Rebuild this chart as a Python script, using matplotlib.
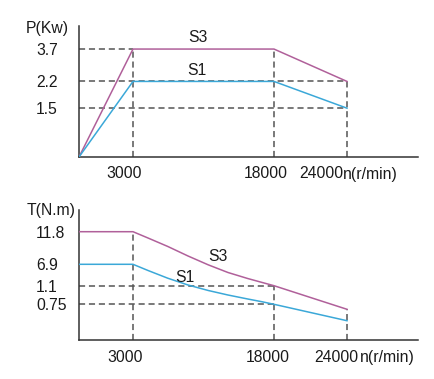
import numpy as np
import matplotlib
matplotlib.use("Agg")
import matplotlib.pyplot as plt

plt.rcParams['font.family'] = ['Liberation Sans', 'DejaVu Sans']

# ---------------- data ----------------
speed_ticks = [3000, 18000, 24000]
speed_labels = ["3000", "18000", "24000"]

# Power curves (kW) vs speed (r/min)
p_speed = [0, 3000, 18000, 24000]
p_s3 = [0, 3.7, 3.7, 2.2]
p_s1 = [0, 2.2, 2.2, 1.5]
p_ticks = [1.5, 2.2, 3.7]
p_labels = ["1.5", "2.2", "3.7"]

# Torque curves (N.m) vs speed (r/min)
t_speed = [0, 3000, 4600, 6700, 8850, 11000, 13100, 15200, 16700, 18000, 24000]
t_s3 = [11.8, 11.8, 10.85, 9.58, 8.15, 6.76, 4.68, 3.05, 2.0, 1.1, 0.645]
t_s1 = [6.9, 6.9, 5.22, 3.13, 1.29, 1.01, 0.925, 0.85, 0.799, 0.75, 0.405]
t_ticks = [0.75, 1.1, 6.9, 11.8]
t_labels = ["0.75", "1.1", "6.9", "11.8"]

C_S3 = "#B0609A"
C_S1 = "#3BA8D8"
C_DASH = "#555555"
C_AX = "#333333"
C_TXT = "#1a1a1a"


def piecewise_scale(vals, pos):
    vals = np.asarray(vals, float)
    pos = np.asarray(pos, float)

    def mk(a, b):
        def f(v):
            v = np.asarray(v, float)
            out = np.interp(v, a, b)
            lo_s = (b[1] - b[0]) / (a[1] - a[0])
            hi_s = (b[-1] - b[-2]) / (a[-1] - a[-2])
            out = np.where(v < a[0], b[0] + (v - a[0]) * lo_s, out)
            out = np.where(v > a[-1], b[-1] + (v - a[-1]) * hi_s, out)
            return out
        return f
    return mk(vals, pos), mk(pos, vals)


# schematic (non-uniform) axis spacing of the original drawing
x_fwd, x_inv = piecewise_scale([0, 3000, 18000, 24000, 30000], [0, 54, 195, 268, 339])
yp_fwd, yp_inv = piecewise_scale([0, 1.5, 2.2, 3.7, 4.8], [0, 48.7, 75.4, 107.7, 130.7])
yt_fwd, yt_inv = piecewise_scale([0, 0.75, 1.1, 6.9, 11.8, 15], [0, 35.7, 54.3, 75.7, 108.3, 130])

W, H = 435, 379
fig = plt.figure(figsize=(W / 100, H / 100), dpi=100)
fig.patch.set_facecolor("white")

ax1 = fig.add_axes([79 / W, 1 - 157 / H, 339 / W, 131 / H])
ax2 = fig.add_axes([79 / W, 1 - 340 / H, 339 / W, 130 / H])

FS = 11.3
dash_kw = dict(color=C_DASH, lw=1.1, ls=(0, (4, 2.5)), zorder=1)
LW = 1.1

for ax, yf, yi, ymax in [(ax1, yp_fwd, yp_inv, 4.8), (ax2, yt_fwd, yt_inv, 15)]:
    ax.set_xscale('function', functions=(x_fwd, x_inv))
    ax.set_yscale('function', functions=(yf, yi))
    ax.set_xlim(0, 30000)
    ax.set_ylim(0, ymax)
    for s in ("top", "right"):
        ax.spines[s].set_visible(False)
    for s in ("left", "bottom"):
        ax.spines[s].set_color(C_AX)
        ax.spines[s].set_linewidth(1.1)
    ax.set_xticks([])
    ax.minorticks_off()
    ax.patch.set_alpha(0)

# ---------- upper: power ----------
ax1.plot([0, 3000], [p_s3[1]] * 2, **dash_kw)
ax1.plot([0, 24000], [p_s1[1]] * 2, **dash_kw)
ax1.plot([0, 24000], [p_s1[3]] * 2, **dash_kw)
ax1.plot([3000] * 2, [0, p_s3[1]], **dash_kw)
ax1.plot([18000] * 2, [0, p_s3[2]], **dash_kw)
ax1.plot([24000] * 2, [0, p_s3[3]], **dash_kw)
ax1.plot(p_speed, p_s3, color=C_S3, lw=LW, zorder=3)
ax1.plot(p_speed, p_s1, color=C_S1, lw=LW, zorder=3)
ax1.set_yticks(p_ticks, p_labels, fontsize=FS)

# ---------- lower: torque ----------
ax2.plot([0, 18000], [t_s3[9]] * 2, **dash_kw)
ax2.plot([0, 18000], [t_s1[9]] * 2, **dash_kw)
ax2.plot([3000] * 2, [0, t_s3[1]], **dash_kw)
ax2.plot([18000] * 2, [0, t_s3[9]], **dash_kw)
ax2.plot([24000] * 2, [0, t_s3[10]], **dash_kw)
ax2.plot(t_speed, t_s3, color=C_S3, lw=LW, zorder=3, solid_joinstyle='round')
ax2.plot(t_speed, t_s1, color=C_S1, lw=LW, zorder=3, solid_joinstyle='round')
ax2.set_yticks(t_ticks, t_labels, fontsize=FS)

for ax in (ax1, ax2):
    ax.minorticks_off()
    ax.tick_params(axis='y', length=0, pad=31, colors=C_TXT)
    for lbl in ax.get_yticklabels():
        lbl.set_horizontalalignment('left')

# x tick labels (offsets as in the original drawing)
up_off = [-6.3, -6.1, -18.2]
lo_off = [-6.0, -4.5, -7.4]
for v, lab, o in zip(speed_ticks, speed_labels, up_off):
    ax1.annotate(lab, xy=(v, 0), xytext=(o, -12.2), textcoords='offset points',
                 ha='center', va='center', fontsize=FS, color=C_TXT)
for v, lab, o in zip(speed_ticks, speed_labels, lo_off):
    ax2.annotate(lab, xy=(v, 0), xytext=(o, -12.6), textcoords='offset points',
                 ha='center', va='center', fontsize=FS, color=C_TXT)

ax1.text(0.779, -0.130, "n(r/min)", transform=ax1.transAxes, ha='left', va='center',
         fontsize=FS, color=C_TXT)
ax2.text(0.829, -0.135, "n(r/min)", transform=ax2.transAxes, ha='left', va='center',
         fontsize=FS, color=C_TXT)

ax1.text(-0.0944, 0.981, "P(Kw)", transform=ax1.transAxes, ha='center', va='center',
         fontsize=FS, color=C_TXT)
ax2.text(-0.0826, 1.0, "T(N.m)", transform=ax2.transAxes, ha='center', va='center',
         fontsize=FS, color=C_TXT)

ax1.text(0.3496, 0.912, "S3", transform=ax1.transAxes, ha='center', va='center',
         fontsize=FS, color=C_TXT)
ax1.text(0.348, 0.660, "S1", transform=ax1.transAxes, ha='center', va='center',
         fontsize=FS, color=C_TXT)
ax2.text(0.4086, 0.646, "S3", transform=ax2.transAxes, ha='center', va='center',
         fontsize=FS, color=C_TXT)
ax2.text(0.3127, 0.481, "S1", transform=ax2.transAxes, ha='center', va='center',
         fontsize=FS, color=C_TXT)

fig.savefig("out.png", dpi=100, facecolor="white")
